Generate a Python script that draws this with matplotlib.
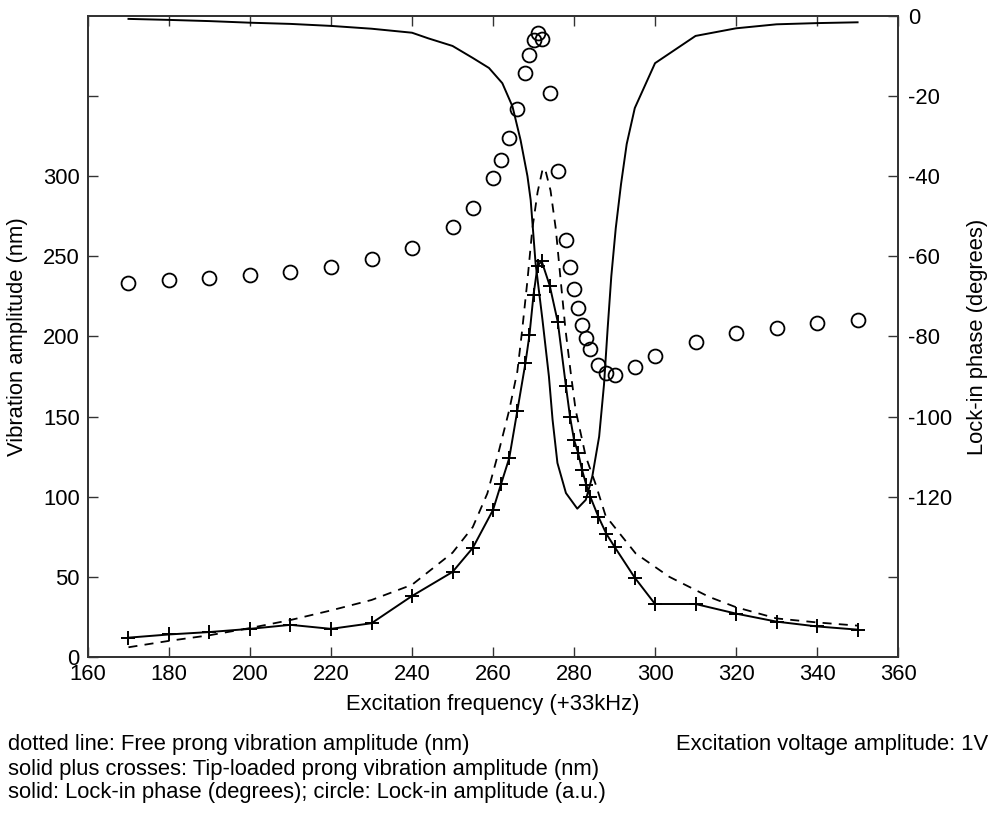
import matplotlib
matplotlib.use('Agg')
import matplotlib.pyplot as plt
import numpy as np

plt.rcParams['font.family'] = ['Liberation Sans', 'DejaVu Sans']

# Measured frequencies (+33kHz) for tip-loaded amplitude and lock-in data
freq = [170, 180, 190, 200, 210, 220, 230, 240, 250, 255, 260, 262, 264, 266,
        268, 269, 270, 271, 272, 274, 276, 278, 279, 280, 281, 282, 283, 284,
        286, 288, 290, 295, 300, 310, 320, 330, 340, 350]

# Tip-loaded prong vibration amplitude (nm) - solid with crosses
tip_amp = [12, 14, 15.5, 17.5, 20, 17.5, 21, 38, 53, 68, 91.7, 108, 124, 153.6,
           183.4, 201, 226, 244, 247, 231.7, 208.8, 169, 150, 135.4, 127.4, 116.5,
           107.5, 100, 87.5, 76.7, 68.7, 49.4, 33, 33, 27, 22, 19, 17]

# Lock-in amplitude (a.u.) - circles
lockin_amp = [233.5, 235, 236.3, 238, 240, 243.4, 248, 255, 268, 280, 298.6,
              309.8, 324, 342, 364.6, 375.6, 384.8, 389.6, 385.4, 352, 303, 260,
              243.4, 229.8, 217.8, 207.3, 199, 192.3, 182.3, 177.1, 176, 181,
              187.5, 196.5, 202, 205.4, 208.6, 210.4]

# Free prong vibration amplitude (nm) - dashed
free_freq = [170, 180, 190, 200, 210, 220, 230, 240, 244, 250, 255, 258.6, 261.5,
             264, 266, 267.2, 268.5, 269.7, 271, 272.3, 273, 274.2, 275.5, 276.7,
             277.9, 279.2, 280.4, 282.9, 285.3, 287.8, 291.9, 295.2, 303.5, 313.3,
             320, 330, 340, 350]
free_amp = [6, 10, 13.5, 18, 23, 29, 35.5, 45, 53, 65, 81, 102, 129, 154, 178,
            204, 235, 267, 290, 305, 303, 291, 267, 235, 204, 177, 154, 125, 108,
            88, 75, 64.6, 50, 37.5, 31, 24, 21.5, 19.5]

# Lock-in phase (degrees) - solid line on right axis
phase_freq = [170, 180, 190, 200, 210, 220, 230, 240, 244, 250, 255, 259, 262.3,
              264.8, 266.8, 268.5, 269.3, 270.5, 272.2, 273.8, 274.7, 275.9, 278,
              280.8, 282.9, 284.5, 286.2, 287.4, 288.3, 289.2, 290.3, 291.6, 293,
              295, 300, 310, 320, 330, 340, 350]
phase = [-0.75, -1.0, -1.3, -1.7, -2.0, -2.5, -3.2, -4.2, -5.6, -7.5, -10.5, -13,
         -16.8, -22.6, -31, -40, -46, -61.7, -75.8, -90, -100.8, -111.6, -119.1,
         -123, -120.8, -115, -105, -92, -78, -65, -53, -42, -32, -23, -11.8,
         -5, -3.1, -2.1, -1.8, -1.6]

fs = 15.8
axcol = '#333333'

fig = plt.figure(figsize=(9.94, 8.15), dpi=100)
ax = fig.add_axes([0.0885, 0.194, 0.815, 0.7865])
ax2 = ax.twinx()

ax.plot(free_freq, free_amp, color='black', linestyle=(0, (5, 4)), linewidth=1.3)
ax.plot(freq, tip_amp, color='black', linewidth=1.4, marker='+', markersize=10,
        markeredgewidth=1.4)
ax.plot(freq, lockin_amp, linestyle='none', marker='o', markersize=10,
        markerfacecolor='none', markeredgecolor='black', markeredgewidth=1.3)
ax2.plot(phase_freq, phase, color='black', linewidth=1.4)

ax.set_xlim(160, 360)
ax.set_ylim(0, 400)
ax2.set_ylim(-160, 0)

ax.set_xticks(np.arange(160, 361, 20))
ax.set_yticks(np.arange(0, 351, 50))
ax.set_yticklabels([str(v) for v in range(0, 301, 50)] + [''])
ax2.set_yticks(np.arange(-140, 1, 20))
ax2.set_yticklabels([''] + [str(v) for v in range(-120, 1, 20)])

ax.tick_params(axis='x', direction='in', top=True, length=7, width=1,
               color=axcol, labelsize=fs, pad=5)
ax.tick_params(axis='y', direction='in', length=7, width=1, color=axcol,
               labelsize=fs, pad=6)
ax2.tick_params(axis='y', direction='in', length=7, width=1, color=axcol,
                labelsize=fs, pad=7)

for a in (ax, ax2):
    for s in a.spines.values():
        s.set_color(axcol)
        s.set_linewidth(1.3)

ax.set_xlabel('Excitation frequency (+33kHz)', fontsize=fs, va='center')
ax.xaxis.set_label_coords(0.5, -0.0749)
ax.set_ylabel('Vibration amplitude (nm)', fontsize=fs, va='center')
ax.yaxis.set_label_coords(-0.0864, 0.5)
ax2.set_ylabel('Lock-in phase (degrees)', fontsize=fs, va='center')
ax2.yaxis.set_label_coords(1.0975, 0.5)

fig.text(0.008, 0.0859, 'dotted line: Free prong vibration amplitude (nm)',
         fontsize=fs, va='center', ha='left')
fig.text(0.008, 0.0564, 'solid plus crosses: Tip-loaded prong vibration amplitude (nm)',
         fontsize=fs, va='center', ha='left')
fig.text(0.008, 0.027, 'solid: Lock-in phase (degrees); circle: Lock-in amplitude (a.u.)',
         fontsize=fs, va='center', ha='left')
fig.text(0.994, 0.0859, 'Excitation voltage amplitude: 1V',
         fontsize=fs, va='center', ha='right')

fig.savefig('out.png', dpi=100)
